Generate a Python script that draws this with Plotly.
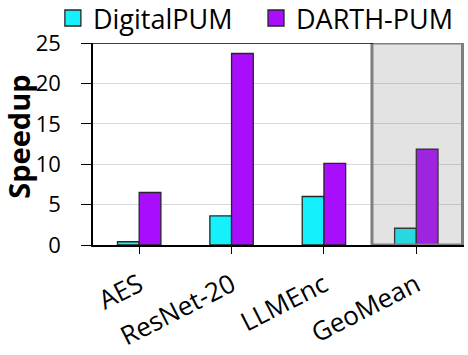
import plotly.graph_objects as go

categories = ["AES", "ResNet-20", "LLMEnc", "GeoMean"]
digital_pum = [0.4, 3.6, 6.0, 2.07]
darth_pum = [6.5, 23.7, 10.1, 11.85]
y_ticks = [0, 5, 10, 15, 20, 25]

FONT = "'Open Sans', sans-serif"
C_DIG = "#14f0fc"
C_DARTH = "#a80dfc"
EDGE = dict(color="#262626", width=1.3)

fig = go.Figure()
fig.add_trace(go.Bar(name="DigitalPUM", x=categories, y=digital_pum, showlegend=False,
                     marker=dict(color=C_DIG, line=EDGE)))
fig.add_trace(go.Bar(name="DARTH-PUM", x=categories, y=darth_pum, showlegend=False,
                     marker=dict(color=C_DARTH, line=EDGE)))
# legend entries (larger square symbols)
fig.add_trace(go.Scatter(name="DigitalPUM", x=[None], y=[None], mode="markers",
                         marker=dict(symbol="square", size=16, color=C_DIG, line=EDGE),
                         legend="legend"))
fig.add_trace(go.Scatter(name="DARTH-PUM", x=[None], y=[None], mode="markers",
                         marker=dict(symbol="square", size=16, color=C_DARTH, line=EDGE),
                         legend="legend2"))

# highlighted GeoMean box
fig.add_shape(type="rect", xref="x", yref="y", x0=2.52, x1=3.5, y0=0, y1=25,
              fillcolor="rgba(123,123,123,0.21)", line=dict(color="#7f7f7f", width=3),
              layer="above")
# top border line at y=25
fig.add_shape(type="line", xref="paper", yref="y", x0=0, x1=0.755, y0=25, y1=25,
              line=dict(color="black", width=1.5))

# y-axis title
fig.add_annotation(text="<b>Speedup</b>", xref="paper", yref="paper",
                   x=-0.2, y=0.535, xanchor="center", yanchor="middle",
                   textangle=-90, showarrow=False, font=dict(size=29))

leg_common = dict(orientation="h", xref="container", yref="container",
                  xanchor="left", yanchor="middle", font=dict(size=27),
                  bgcolor="rgba(0,0,0,0)", itemsizing="trace")

fig.update_layout(
    width=468, height=355,
    margin=dict(l=93, r=4, t=43, b=110, autoexpand=False),
    paper_bgcolor="white", plot_bgcolor="white",
    barmode="group", bargap=0.53, bargroupgap=0,
    font=dict(family=FONT, size=20, color="black"),
    legend=dict(x=0.113, y=0.948, **leg_common),
    legend2=dict(x=0.547, y=0.948, **leg_common),
    xaxis=dict(showline=True, linecolor="black", linewidth=1.5, ticks="outside",
               ticklen=7, tickcolor="black", tickangle=-27,
               ticklabelstandoff=6, tickfont=dict(size=26)),
    yaxis=dict(range=[0, 25], tickvals=y_ticks, showline=True, linecolor="black",
               linewidth=1.5, ticks="outside", ticklen=10, tickcolor="black",
               ticklabelstandoff=16, tickfont=dict(size=22),
               showgrid=True, gridcolor="#d9d9d9", gridwidth=1.2,
               zeroline=False),
)

fig.write_html("out.html", config={"displayModeBar": False},
               post_script="document.body.style.margin='0px';")
